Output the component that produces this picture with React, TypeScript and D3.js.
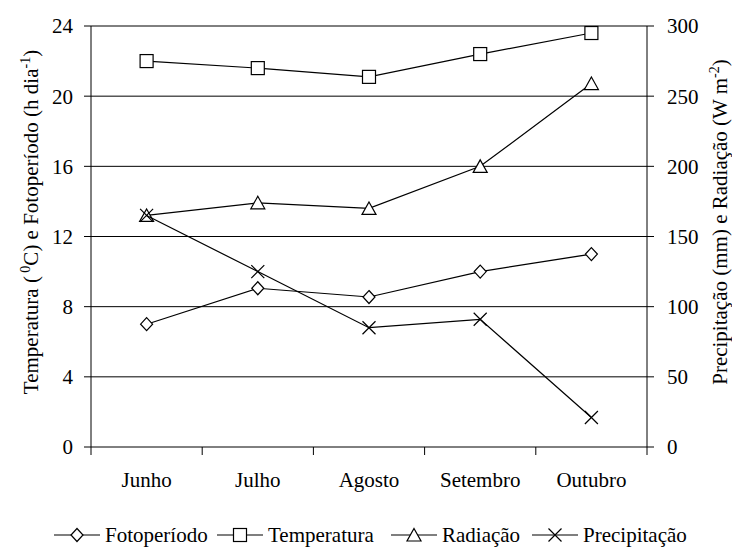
import * as d3 from 'd3';

const months = ['Junho', 'Julho', 'Agosto', 'Setembro', 'Outubro'];
const fotoperiodo = [7.0, 9.05, 8.55, 10.0, 11.0];
const temperatura = [22.0, 21.6, 21.1, 22.4, 23.6];
const radiacao = [165, 174, 170, 200, 259];
const precipitacao = [165, 125, 85, 91, 21];
const leftTicks = [0, 4, 8, 12, 16, 20, 24];
const rightTicks = [0, 50, 100, 150, 200, 250, 300];

const W = 732;
const H = 550;
const M = { left: 91, right: 647, top: 26, bottom: 447 };
const SERIF = 'Liberation Serif';
const FS = 21;

type Shape = 'diamond' | 'square' | 'triangle' | 'cross';

const Marker = ({ shape, x, y }: { shape: Shape; x: number; y: number }) => {
  const s = 6.5;
  if (shape === 'diamond')
    return <path d={`M${x},${y - s}L${x + s - 0.5},${y}L${x},${y + s}L${x - s + 0.5},${y}Z`} fill="white" stroke="black" strokeWidth={1.2} />;
  if (shape === 'square')
    return <rect x={x - s} y={y - s} width={2 * s} height={2 * s} fill="white" stroke="black" strokeWidth={1.2} />;
  if (shape === 'triangle')
    return <path d={`M${x},${y - s}L${x + s + 0.5},${y + s - 0.5}L${x - s - 0.5},${y + s - 0.5}Z`} fill="white" stroke="black" strokeWidth={1.2} />;
  return (
    <path d={`M${x - s},${y - s}L${x + s},${y + s}M${x + s},${y - s}L${x - s},${y + s}`} stroke="black" strokeWidth={1.2} />
  );
};

const App = () => {
  const x = d3.scaleBand<string>().domain(months).range([M.left, M.right]);
  const yL = d3.scaleLinear().domain([0, 24]).range([M.bottom, M.top]);
  const yR = d3.scaleLinear().domain([0, 300]).range([M.bottom, M.top]);
  const cx = (m: string) => (x(m) ?? 0) + x.bandwidth() / 2;

  const series: { name: string; values: number[]; scale: d3.ScaleLinear<number, number>; shape: Shape }[] = [
    { name: 'Fotoperíodo', values: fotoperiodo, scale: yL, shape: 'diamond' },
    { name: 'Temperatura', values: temperatura, scale: yL, shape: 'square' },
    { name: 'Radiação', values: radiacao, scale: yR, shape: 'triangle' },
    { name: 'Precipitação', values: precipitacao, scale: yR, shape: 'cross' },
  ];

  const bounds = [...months.map((m) => x(m) ?? 0), M.right];
  // start of each legend line segment
  const legendX = [54, 217, 391, 532];
  const legendY = 535;

  return (
    <svg width={W} height={H} fontFamily={SERIF} style={{ position: 'absolute', left: 0, top: 0, fontFamily: `"${SERIF}"` }}>
      <style>{`text { font-family: "${SERIF}", serif; }`}</style>
      <rect width={W} height={H} fill="white" />
      {/* gridlines */}
      {rightTicks.map((t) => (
        <line key={t} x1={M.left} x2={M.right} y1={yR(t)} y2={yR(t)} stroke="black" strokeWidth={1} />
      ))}
      {/* axes */}
      <line x1={M.left} x2={M.left} y1={M.top} y2={M.bottom} stroke="black" />
      <line x1={M.right} x2={M.right} y1={M.top} y2={M.bottom} stroke="black" />
      {leftTicks.map((t) => (
        <g key={t}>
          <line x1={M.left - 7} x2={M.left} y1={yL(t)} y2={yL(t)} stroke="black" />
          <text x={M.left - 18} y={yL(t)} dy="0.35em" textAnchor="end" fontSize={FS} fontFamily={SERIF}>{t}</text>
        </g>
      ))}
      {rightTicks.map((t) => (
        <g key={t}>
          <line x1={M.right} x2={M.right + 7} y1={yR(t)} y2={yR(t)} stroke="black" />
          <text x={M.right + 20} y={yR(t)} dy="0.35em" textAnchor="start" fontSize={FS} fontFamily={SERIF}>{t}</text>
        </g>
      ))}
      {bounds.map((b, i) => (
        <line key={i} x1={b} x2={b} y1={M.bottom} y2={M.bottom + 8} stroke="black" />
      ))}
      {months.map((m) => (
        <text key={m} x={cx(m)} y={487} textAnchor="middle" fontSize={FS} fontFamily={SERIF}>{m}</text>
      ))}

      {/* axis titles */}
      <text transform={`translate(38,222) rotate(-90)`} textAnchor="middle" fontSize={FS} fontFamily={SERIF}>
        Temperatura (<tspan dy={-8} fontSize={14}> 0</tspan><tspan dy={8}>C) e Fotoperíodo (h dia</tspan>
        <tspan dy={-8} fontSize={14}>-1</tspan><tspan dy={8}>)</tspan>
      </text>
      <text transform={`translate(727,222) rotate(-90)`} textAnchor="middle" fontSize={FS} fontFamily={SERIF}>
        Precipitação (mm) e Radiação (W m<tspan dy={-8} fontSize={14}>-2</tspan><tspan dy={8}>)</tspan>
      </text>

      {/* series */}
      {series.map((s) => {
        const line = d3.line<number>().x((_, i) => cx(months[i])).y((v) => s.scale(v));
        return (
          <g key={s.name}>
            <path d={line(s.values) ?? undefined} fill="none" stroke="black" strokeWidth={1.2} />
            {s.values.map((v, i) => (
              <Marker key={i} shape={s.shape} x={cx(months[i])} y={s.scale(v)} />
            ))}
          </g>
        );
      })}

      {/* legend */}
      {series.map((s, i) => (
        <g key={s.name}>
          <line x1={legendX[i]} x2={legendX[i] + 46} y1={legendY} y2={legendY} stroke="black" strokeWidth={1.2} />
          <Marker shape={s.shape} x={legendX[i] + 23} y={legendY} />
          <text x={legendX[i] + 51} y={legendY} dy="0.35em" fontSize={FS} fontFamily={SERIF}>{s.name}</text>
        </g>
      ))}
    </svg>
  );
};

export default App;
